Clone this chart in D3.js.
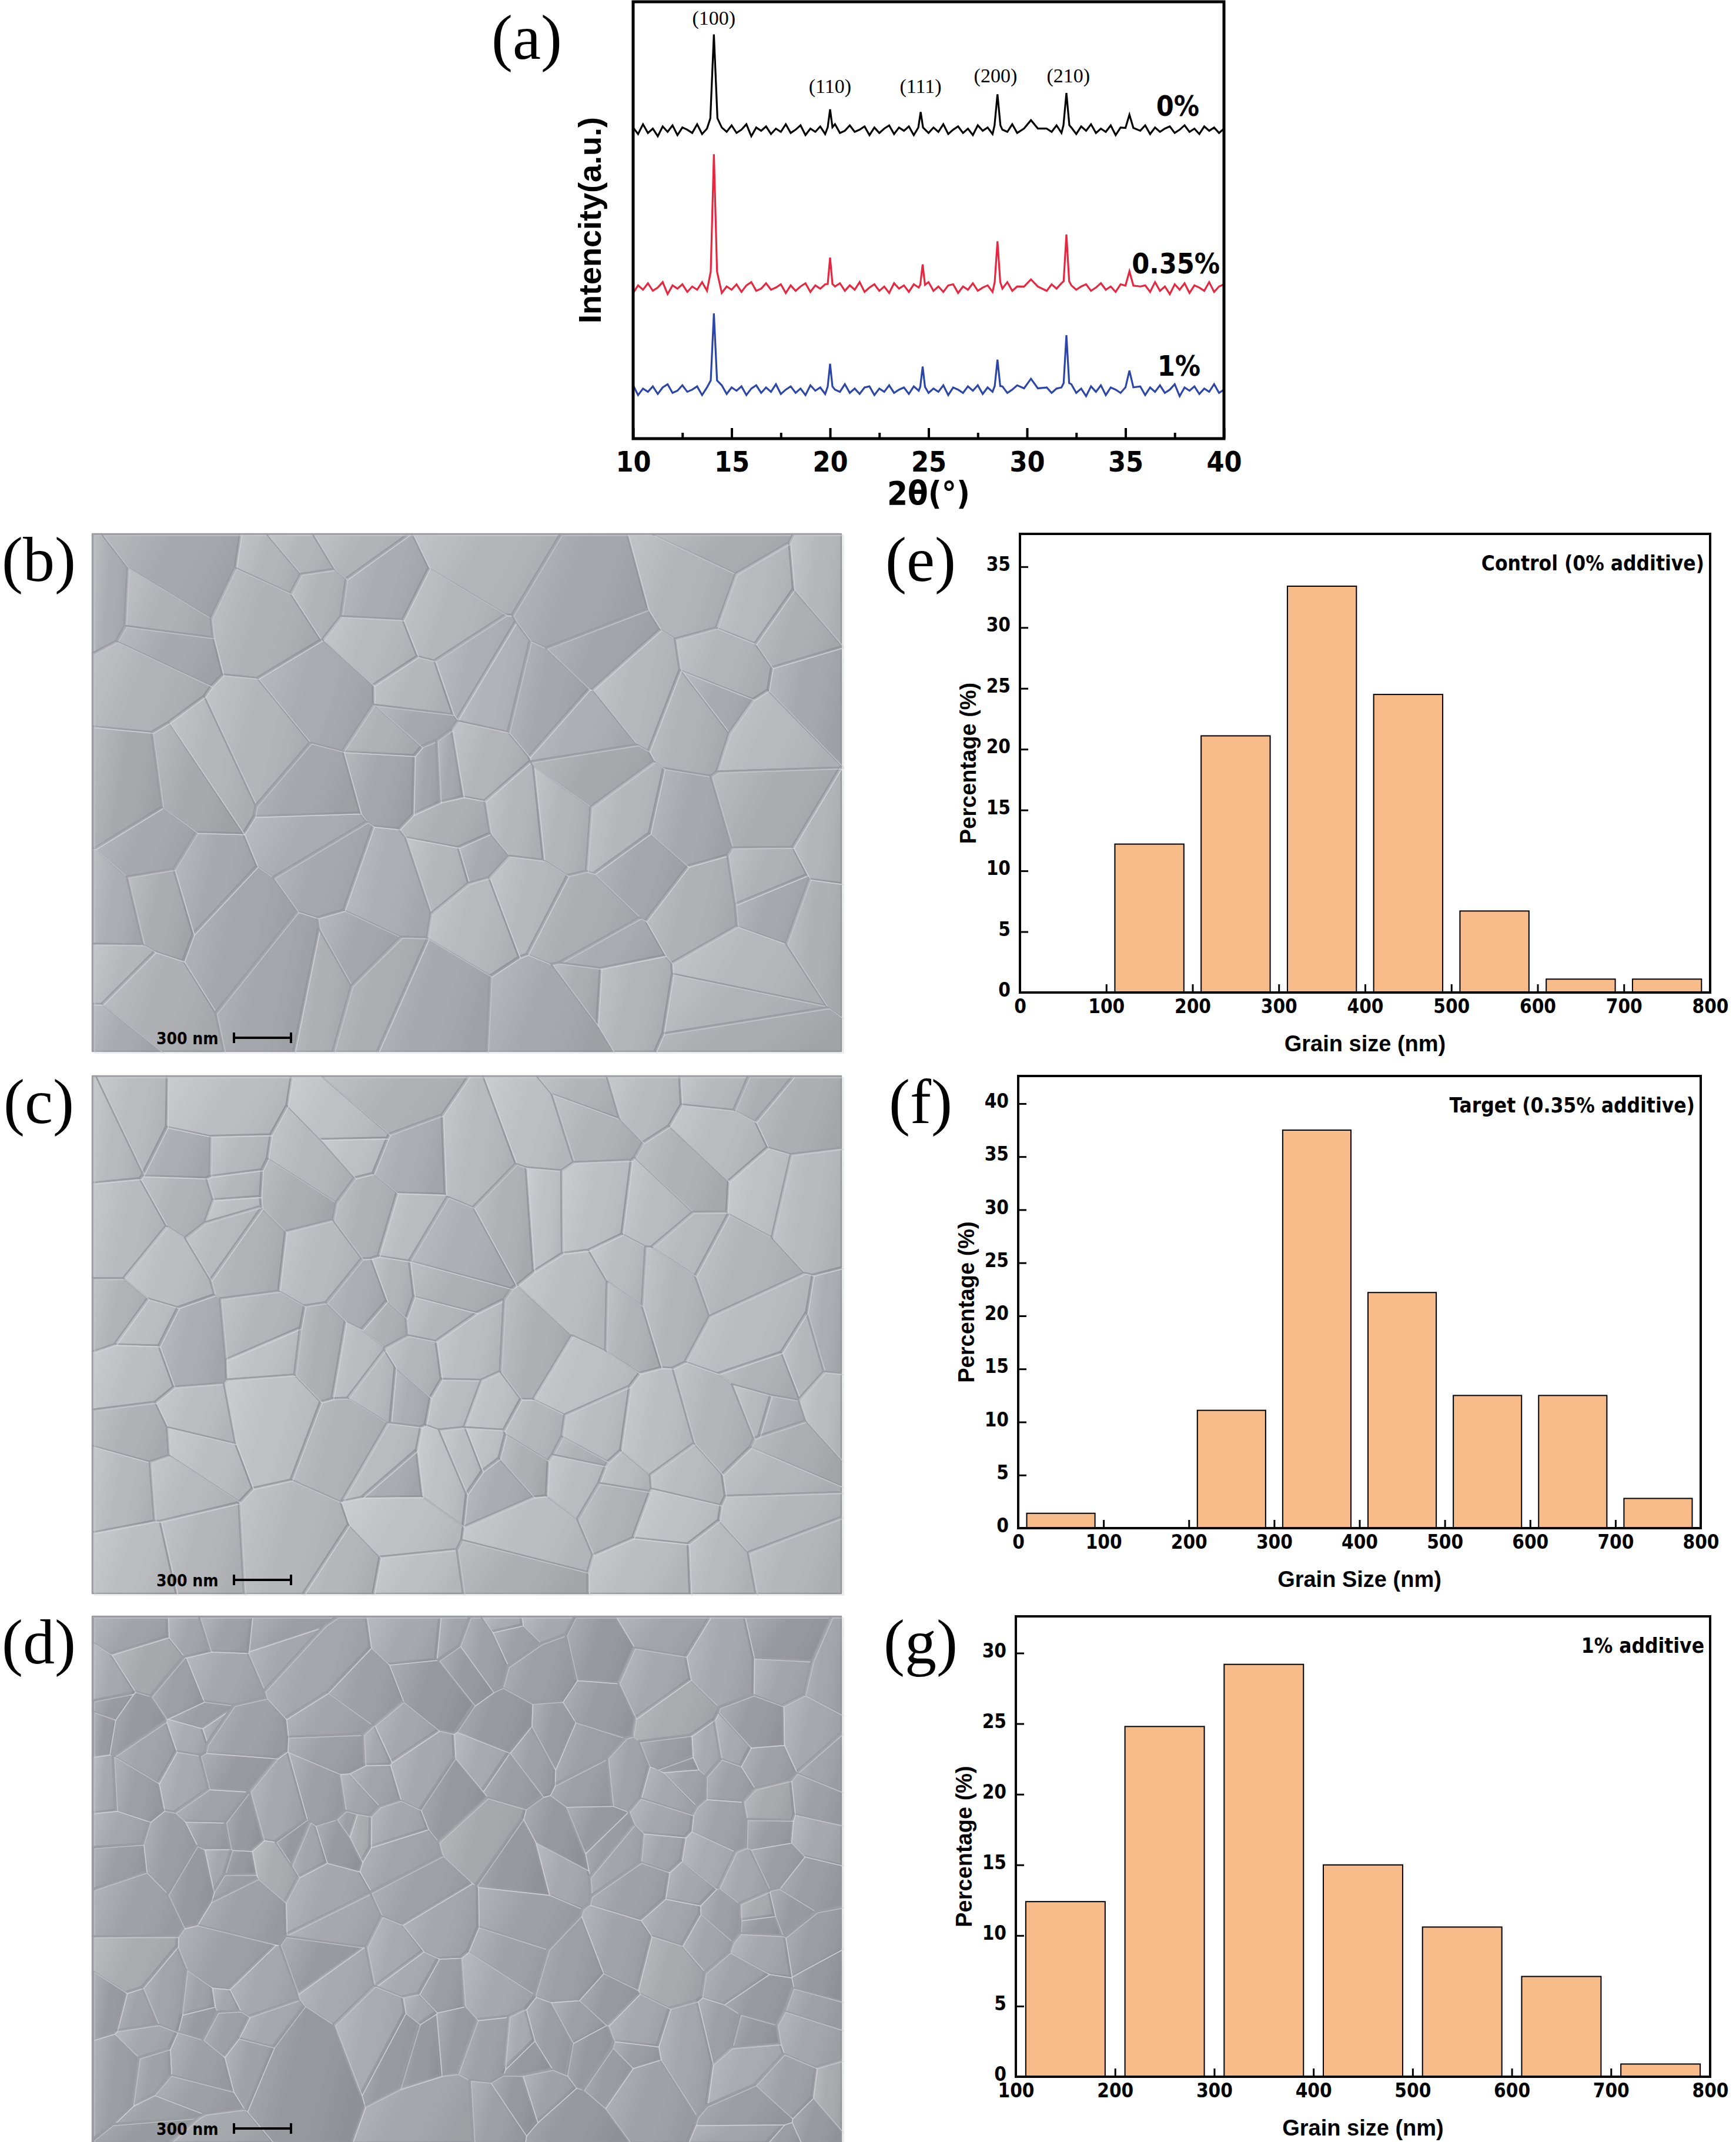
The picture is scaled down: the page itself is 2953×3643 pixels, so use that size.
<!DOCTYPE html>
<html><head><meta charset="utf-8">
<script src="https://cdn.jsdelivr.net/npm/d3@7"></script>
<style>body{margin:0;background:#fff}</style>
</head><body>
<svg id="fig" width="2953" height="3643"></svg>
<script>
// ---- data ----
// XRD: 2theta (deg) and peak list [position, height above baseline, half width]
var xrdSeries = ["0%", "0.35%", "1%"];
var xrdColors = ["#000000", "#e8263f", "#2b46a8"];
var xrdBaselines = [227, 111, 36];
var xrdPeaks = [
  [[14.1,70,0.18],[20.0,15,0.12],[24.6,13,0.12],[28.5,26,0.15],[30.2,7,0.35],[32.0,27,0.15],[35.2,11,0.2]],
  [[14.1,98,0.16],[20.0,22,0.12],[24.7,17,0.12],[28.5,34,0.14],[30.2,6,0.35],[32.0,39,0.14],[35.2,12,0.2]],
  [[14.1,56,0.16],[20.0,19,0.12],[24.7,17,0.12],[28.5,22,0.14],[30.2,8,0.35],[32.0,40,0.14],[35.2,14,0.2]]
];
// hand-read baseline wiggle, every 0.25 deg from 10 to 40
var xrdNoise = [2,-4,5,-3,1,-6,3,-2,4,-5,2,0,-3,5,-4,1,3,-5,2,-2,4,-3,0,5,-6,2,-1,3,-4,1,
  -2,5,-3,0,4,-5,1,-2,3,-4,2,5,-3,-1,4,-2,0,3,-5,2,-3,1,4,-4,2,-1,3,-5,1,4,
  -3,2,-2,5,-4,0,3,-3,1,-5,4,-1,2,-4,3,0,-2,5,-3,1,-4,2,3,-5,1,-2,4,-3,0,2,
  -4,3,-1,5,-3,1,-2,4,-5,2,0,-3,3,-1,4,-4,2,-2,1,3,-3,0,4,-2,1,-4,3,-1,2,-3,1];
var peakNames = ["(100)", "(110)", "(111)", "(200)", "(210)"];
var peakNamePos = [14.1, 20.0, 24.6, 28.4, 32.1];
var peakNameY = [304, 254, 254, 262, 262];

var binStarts = [0, 100, 200, 300, 400, 500, 600, 700];
var histE = [0, 12.2, 21.1, 33.4, 24.5, 6.7, 1.1, 1.1];
var histF = [1.4, 0, 11.1, 37.5, 22.2, 12.5, 12.5, 2.8];
var histG = [null, 12.4, 24.8, 29.2, 15.0, 10.6, 7.1, 0.9];
var histTitles = ["Control (0% additive)", "Target (0.35% additive)", "1% additive"];
var histXLabels = ["Grain size (nm)", "Grain Size (nm)", "Grain size (nm)"];

var svg = d3.select("#fig");
var narrow = "'DejaVu Sans Condensed','Liberation Sans Narrow',sans-serif";
var sans = "'Liberation Sans',Arial,sans-serif";
var serif = "'Liberation Serif','Times New Roman',serif";

function panelLabel(t, x, y) {
  svg.append("text").attr("x", x).attr("y", y).attr("font-family", serif)
    .attr("font-size", 108).attr("text-anchor", "middle").text(t);
}

// ---- (a) XRD ----
(function () {
  var L = 1077, R = 2082, T = 3, B = 746;
  var x = d3.scaleLinear().domain([10, 40]).range([L, R]);
  var y = d3.scaleLinear().domain([0, 321]).range([B, T]);
  var g = svg.append("g");
  xrdSeries.forEach(function (s, k) {
    var pk = xrdPeaks[k], pts = [];
    xrdNoise.forEach(function (n, i) {
      var xv = 10 + i * 0.25;
      if (pk.some(function (p) { return Math.abs(xv - p[0]) < p[2] * 1.6; })) return;
      var m = xrdNoise[(i + k * 17) % xrdNoise.length];
      pts.push([xv, xrdBaselines[k] + m * 0.8]);
    });
    pk.forEach(function (p) {
      pts.push([p[0] - p[2], xrdBaselines[k] + p[1] * 0.12]);
      pts.push([p[0], xrdBaselines[k] + p[1]]);
      pts.push([p[0] + p[2], xrdBaselines[k] + p[1] * 0.12]);
    });
    pts.sort(function (a, b) { return a[0] - b[0]; });
    g.append("path").attr("d", d3.line().x(function (d) { return x(d[0]); }).y(function (d) { return y(d[1]); })(pts))
      .attr("fill", "none").attr("stroke", xrdColors[k]).attr("stroke-width", 3.2);
    g.append("text").attr("x", [2040, 2075, 2042][k]).attr("y", y(xrdBaselines[k]) - 24)
      .attr("text-anchor", "end").attr("font-family", narrow).attr("font-weight", "bold")
      .attr("font-size", 48).text(s);
  });
  peakNames.forEach(function (p, i) {
    g.append("text").attr("x", x(peakNamePos[i])).attr("y", y(peakNameY[i]))
      .attr("text-anchor", "middle").attr("font-family", serif).attr("font-size", 34).text(p);
  });
  g.append("rect").attr("x", L).attr("y", T).attr("width", R - L).attr("height", B - T)
    .attr("fill", "none").attr("stroke", "#000").attr("stroke-width", 5);
  var ax = g.append("g").attr("transform", "translate(0," + B + ")")
    .call(d3.axisBottom(x).tickValues(d3.range(10, 41, 5)).tickSize(-18).tickPadding(22));
  ax.append("g").call(d3.axisBottom(x).tickValues(d3.range(12.5, 40, 5)).tickSize(-10).tickFormat(""));
  ax.selectAll("path").remove();
  ax.selectAll("line").attr("stroke", "#000").attr("stroke-width", 4);
  ax.selectAll("text").attr("font-family", narrow).attr("font-weight", "bold").attr("font-size", 48).attr("fill", "#000");
  g.append("text").attr("x", (L + R) / 2).attr("y", 858).attr("text-anchor", "middle")
    .attr("font-family", narrow).attr("font-weight", "bold").attr("font-size", 56).text("2θ(°)");
  g.append("text").attr("transform", "translate(1022," + (B + T) / 2 + ") rotate(-90)")
    .attr("text-anchor", "middle").attr("font-family", sans)
    .attr("font-weight", "bold").attr("font-size", 54).text("Intencity(a.u.)");
  panelLabel("(a)", 896, 100);
})();

// ---- SEM micrographs (decorative grain texture) ----
function sem(idx, top, h, nCells, seed, base) {
  var L = 157, W = 1274;
  var s = seed;
  function rnd() { s = (s * 1103515245 + 12345) % 2147483648; return s / 2147483648; }
  var pts = d3.range(nCells).map(function () { return [L + rnd() * W, top + rnd() * h]; });
  var vor = d3.Delaunay.from(pts).voronoi([L, top, L + W, top + h]);
  var g = svg.append("g");
  var grad = svg.append("defs").append("linearGradient").attr("id", "sh" + idx)
    .attr("x1", 0).attr("y1", 0).attr("x2", 1).attr("y2", 0.3);
  grad.append("stop").attr("offset", 0).attr("stop-color", "#fff").attr("stop-opacity", 0.35);
  grad.append("stop").attr("offset", 0.5).attr("stop-color", "#fff").attr("stop-opacity", 0);
  grad.append("stop").attr("offset", 1).attr("stop-color", "#000").attr("stop-opacity", 0.08);
  pts.forEach(function (p, i) {
    var c = d3.hsl(220, 0.04, base + (rnd() - 0.5) * 0.08);
    g.append("path").attr("d", vor.renderCell(i)).attr("fill", c.toString())
      .attr("stroke", "#9a9ca2").attr("stroke-width", 2.5).attr("stroke-linejoin", "round");
    g.append("path").attr("d", vor.renderCell(i)).attr("fill", "url(#sh" + idx + ")")
      .attr("stroke", "#d6d8dc").attr("stroke-width", 1.5).attr("transform", "translate(4,3)").attr("opacity", 0.6);
  });
  g.append("text").attr("x", 266).attr("y", top + h - 12).attr("font-family", narrow)
    .attr("font-weight", "bold").attr("font-size", 28).text("300 nm");
  g.append("path").attr("d", "M398," + (top + h - 32) + "v18M398," + (top + h - 23) + "h97M495," + (top + h - 32) + "v18")
    .attr("stroke", "#000").attr("stroke-width", 4).attr("fill", "none");
  panelLabel(["(b)", "(c)", "(d)"][idx], 66, top + 80);
}
sem(0, 908, 880, 85, 11, 0.69);
sem(1, 1830, 880, 110, 29, 0.72);
sem(2, 2749, 894, 190, 47, 0.64);

// ---- histograms ----
function hist(idx, vals, L, R, T, B, xmin, ymax, yTicks) {
  var x = d3.scaleLinear().domain([xmin, 800]).range([L, R]);
  var y = d3.scaleLinear().domain([0, ymax]).range([B, T]);
  var g = svg.append("g");
  binStarts.forEach(function (b, i) {
    var v = vals[i];
    if (v === null || v <= 0) return;
    g.append("rect").attr("x", x(b + 10)).attr("width", x(b + 90) - x(b + 10))
      .attr("y", y(v)).attr("height", y(0) - y(v))
      .attr("fill", "#f8bb8a").attr("stroke", "#000").attr("stroke-width", 2);
  });
  g.append("rect").attr("x", L).attr("y", T).attr("width", R - L).attr("height", B - T)
    .attr("fill", "none").attr("stroke", "#000").attr("stroke-width", 4);
  var ax = g.append("g").attr("transform", "translate(0," + B + ")")
    .call(d3.axisBottom(x).tickValues(d3.range(xmin, 801, 100)).tickSize(-14).tickPadding(12));
  var ay = g.append("g").attr("transform", "translate(" + L + ",0)")
    .call(d3.axisLeft(y).tickValues(yTicks).tickSize(-14).tickPadding(16));
  [ax, ay].forEach(function (a) {
    a.selectAll("path").remove();
    a.selectAll("line").attr("stroke", "#000").attr("stroke-width", 3);
    a.selectAll("text").attr("font-family", narrow).attr("font-weight", "bold").attr("font-size", 33).attr("fill", "#000");
  });
  ay.selectAll("text").attr("dy", "0.2em");
  g.append("text").attr("x", (L + R) / 2).attr("y", B + 100).attr("text-anchor", "middle")
    .attr("font-family", sans).attr("font-weight", "bold")
    .attr("font-size", 38).text(histXLabels[idx]);
  g.append("text").attr("transform", "translate(" + (L - 75) + "," + (T + B) / 2 + ") rotate(-90)")
    .attr("text-anchor", "middle").attr("font-family", sans)
    .attr("font-weight", "bold").attr("font-size", 38).text("Percentage (%)");
  g.append("text").attr("x", R - 10).attr("y", T + 62).attr("text-anchor", "end")
    .attr("font-family", narrow).attr("font-weight", "bold").attr("font-size", 35).text(histTitles[idx]);
  panelLabel(["(e)", "(f)", "(g)"][idx], 1566, T + 80);
}
hist(0, histE, 1735, 2909, 908, 1688, 0, 37.7, d3.range(0, 36, 5));
hist(1, histF, 1732, 2893, 1830, 2599, 0, 42.6, d3.range(0, 41, 5));
hist(2, histG, 1728, 2909, 2749, 3532, 100, 32.6, d3.range(0, 31, 5));
</script>
</body></html>
